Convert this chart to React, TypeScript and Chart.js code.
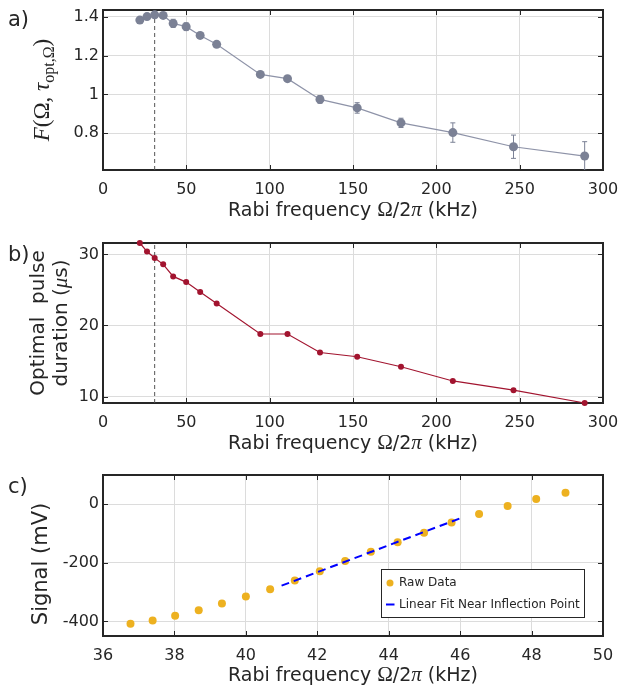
import React, { useEffect, useRef } from 'react';
import { Chart, registerables } from 'chart.js';

Chart.register(...registerables);

// ---------------- data ----------------
const rabiFreq = [22.1, 26.4, 31.0, 36.1, 42.1, 49.9, 58.3, 68.2, 94.4, 110.7, 130.2, 152.5, 178.8, 209.9, 246.3, 289.0];
const figureOfMerit = [1.383, 1.401, 1.41, 1.407, 1.366, 1.349, 1.304, 1.258, 1.103, 1.081, 0.974, 0.93, 0.853, 0.803, 0.73, 0.682];
const meritError = [0.013, 0.011, 0.011, 0.013, 0.021, 0.02, 0.014, 0.013, 0.013, 0.012, 0.02, 0.027, 0.024, 0.05, 0.06, 0.074];
const optimalDuration = [31.6, 30.4, 29.5, 28.6, 26.9, 26.1, 24.7, 23.1, 18.8, 18.8, 16.2, 15.6, 14.2, 12.2, 10.9, 9.1];
const optimalRabi = 31;

const signalFreq = [36.77, 37.39, 38.02, 38.68, 39.33, 40.0, 40.68, 41.37, 42.07, 42.78, 43.5, 44.25, 44.99, 45.76, 46.53, 47.33, 48.13, 48.95];
const signalMv = [-408, -397, -381, -362, -339, -315, -290, -260, -229, -194, -162, -130, -97, -62, -33, -6, 18, 39];
const fitFreq = [41, 46];
const fitMv = [-278, -48];

const xTicksAB = [0, 50, 100, 150, 200, 250, 300];
const yTicksA = [0.8, 1, 1.2, 1.4];
const yTicksB = [10, 20, 30];
const xTicksC = [36, 38, 40, 42, 44, 46, 48, 50];
const yTicksC = [-400, -200, 0];

const xRangeAB = [0, 300];
const yRangeA = [0.61, 1.435];
const yRangeB = [9.1, 31.6];
const xRangeC = [36, 50];
const yRangeC = [-450, 100];

const legendLabels = ['Raw Data', 'Linear Fit Near Inflection Point'];

// ---------------- style ----------------
const SANS = '"DejaVu Sans", sans-serif';
const SERIF = '"Liberation Serif", "DejaVu Serif", serif';
const TEXT = '#262626';
const GRID = '#dcdcdc';
const GRAY = '#7b8195';
const GRAY_LINE = '#8e93a8';
const RED = '#a2142f';
const ORANGE = '#edb120';
const BLUE = '#0000ff';
const W = 621;
const PLOT_LEFT = 103;
const PLOT_RIGHT = 603;

type Seg = { t: string; f: string; dy?: number };

function drawRich(ctx: CanvasRenderingContext2D, segs: Seg[], x: number, y: number, align: 'left' | 'center') {
  ctx.textAlign = 'left';
  ctx.textBaseline = 'alphabetic';
  let total = 0;
  const ws = segs.map((s) => {
    ctx.font = s.f;
    const w = ctx.measureText(s.t).width;
    total += w;
    return w;
  });
  let cx = align === 'center' ? x - total / 2 : x;
  segs.forEach((s, i) => {
    ctx.font = s.f;
    ctx.fillText(s.t, cx, y + (s.dy || 0));
    cx += ws[i];
  });
}

function drawRotated(ctx: CanvasRenderingContext2D, segs: Seg[], baseX: number, centerY: number) {
  ctx.save();
  ctx.translate(baseX, centerY);
  ctx.rotate(-Math.PI / 2);
  drawRich(ctx, segs, 0, 0, 'center');
  ctx.restore();
}

const xTitle: Seg[] = [
  { t: 'Rabi frequency ', f: `19px ${SANS}` },
  { t: 'Ω', f: `21px ${SERIF}` },
  { t: '/2', f: `19px ${SANS}` },
  { t: 'π', f: `italic 21px ${SERIF}` },
  { t: ' (kHz)', f: `19px ${SANS}` },
];

function xScale(range: number[], ticks: number[], height: number) {
  return {
    type: 'linear',
    position: 'bottom',
    min: range[0],
    max: range[1],
    afterBuildTicks: (s: any) => {
      s.ticks = ticks.map((v) => ({ value: v }));
    },
    afterFit: (s: any) => {
      s.height = height;
      s.paddingLeft = 0;
      s.paddingRight = 0;
    },
    ticks: {
      font: { family: SANS, size: 16 },
      color: TEXT,
      padding: 10,
      maxRotation: 0,
      autoSkip: false,
      callback: (v: any) => String(v),
    },
    grid: { color: GRID, lineWidth: 1, drawTicks: false },
    border: { display: false },
  };
}

function yScale(range: number[], ticks: number[]) {
  return {
    type: 'linear',
    position: 'left',
    min: range[0],
    max: range[1],
    afterBuildTicks: (s: any) => {
      s.ticks = ticks.map((v) => ({ value: v }));
    },
    afterFit: (s: any) => {
      s.width = PLOT_LEFT;
      s.paddingTop = 0;
      s.paddingBottom = 0;
    },
    ticks: {
      font: { family: SANS, size: 16 },
      color: TEXT,
      padding: 4,
      autoSkip: false,
      callback: (v: any) => String(v),
    },
    grid: { color: GRID, lineWidth: 1, drawTicks: false },
    border: { display: false },
  };
}

function drawFrame(chart: any) {
  const { ctx, chartArea: a, scales } = chart;
  const xs = scales.x;
  const ys = scales.y;
  ctx.save();
  ctx.strokeStyle = TEXT;
  ctx.lineWidth = 1;
  ctx.beginPath();
  for (const t of xs.ticks) {
    const px = Math.round(xs.getPixelForValue(t.value)) + 0.5;
    ctx.moveTo(px, a.bottom);
    ctx.lineTo(px, a.bottom - 5);
    ctx.moveTo(px, a.top);
    ctx.lineTo(px, a.top + 5);
  }
  for (const t of ys.ticks) {
    const py = Math.round(ys.getPixelForValue(t.value)) + 0.5;
    ctx.moveTo(a.left, py);
    ctx.lineTo(a.left + 5, py);
    ctx.moveTo(a.right, py);
    ctx.lineTo(a.right - 5, py);
  }
  ctx.stroke();
  ctx.lineWidth = 2;
  ctx.strokeRect(a.left, a.top, a.right - a.left, a.bottom - a.top);
  ctx.restore();
}

function baseOptions(plotTop: number, xs: any, ys: any) {
  return {
    animation: false,
    responsive: false,
    events: [],
    layout: { padding: { left: 0, right: W - PLOT_RIGHT, top: plotTop, bottom: 0 } },
    plugins: { legend: { display: false }, tooltip: { enabled: false } },
    scales: { x: xs, y: ys },
  };
}

// ---------------- panel configs ----------------
function configA() {
  const H = 235;
  return {
    type: 'line',
    data: {
      datasets: [
        {
          data: [
            { x: optimalRabi, y: yRangeA[0] },
            { x: optimalRabi, y: yRangeA[1] },
          ],
          borderColor: '#555555',
          borderWidth: 1,
          borderDash: [4, 3],
          pointRadius: 0,
          order: 2,
        },
        {
          data: rabiFreq.map((x, i) => ({ x, y: figureOfMerit[i] })),
          borderColor: GRAY_LINE,
          borderWidth: 1.2,
          pointRadius: 4.5,
          pointBackgroundColor: GRAY,
          pointBorderWidth: 0,
          order: 1,
          clip: false,
        },
      ],
    },
    options: baseOptions(10, xScale(xRangeAB, xTicksAB, H - 170), yScale(yRangeA, yTicksA)),
    plugins: [
      {
        id: 'decorA',
        beforeDatasetsDraw(chart: any) {
          drawFrame(chart);
          const { ctx, chartArea: a, scales } = chart;
          ctx.save();
          ctx.beginPath();
          ctx.rect(a.left, a.top, a.right - a.left, a.bottom - a.top);
          ctx.clip();
          ctx.strokeStyle = GRAY;
          ctx.lineWidth = 1;
          ctx.beginPath();
          rabiFreq.forEach((f, i) => {
            const px = scales.x.getPixelForValue(f);
            const y1 = scales.y.getPixelForValue(figureOfMerit[i] - meritError[i]);
            const y2 = scales.y.getPixelForValue(figureOfMerit[i] + meritError[i]);
            ctx.moveTo(px, y1);
            ctx.lineTo(px, y2);
            ctx.moveTo(px - 2.5, y1);
            ctx.lineTo(px + 2.5, y1);
            ctx.moveTo(px - 2.5, y2);
            ctx.lineTo(px + 2.5, y2);
          });
          ctx.stroke();
          ctx.restore();
        },
        afterDraw(chart: any) {
          const { ctx, chartArea: a } = chart;
          ctx.save();
          ctx.fillStyle = TEXT;
          drawRich(ctx, [{ t: 'a)', f: `21px ${SANS}` }], 8, 26, 'left');
          drawRich(ctx, xTitle, (a.left + a.right) / 2, a.bottom + 46, 'center');
          drawRotated(
            ctx,
            [
              { t: 'F', f: `italic 23px ${SERIF}` },
              { t: '(Ω, ', f: `23px ${SERIF}` },
              { t: 'τ', f: `italic 23px ${SERIF}` },
              { t: 'opt,Ω', f: `16px ${SERIF}`, dy: 5 },
              { t: ')', f: `23px ${SERIF}` },
            ],
            49,
            (a.top + a.bottom) / 2
          );
          ctx.restore();
        },
      },
    ],
  };
}

function configB() {
  const H = 230;
  return {
    type: 'line',
    data: {
      datasets: [
        {
          data: [
            { x: optimalRabi, y: yRangeB[0] },
            { x: optimalRabi, y: yRangeB[1] },
          ],
          borderColor: '#555555',
          borderWidth: 1,
          borderDash: [4, 3],
          pointRadius: 0,
          order: 2,
        },
        {
          data: rabiFreq.map((x, i) => ({ x, y: optimalDuration[i] })),
          borderColor: RED,
          borderWidth: 1.2,
          pointRadius: 3,
          pointBackgroundColor: RED,
          pointBorderWidth: 0,
          order: 1,
          clip: false,
        },
      ],
    },
    options: baseOptions(8, xScale(xRangeAB, xTicksAB, H - 168), yScale(yRangeB, yTicksB)),
    plugins: [
      {
        id: 'decorB',
        beforeDatasetsDraw(chart: any) {
          drawFrame(chart);
        },
        afterDraw(chart: any) {
          const { ctx, chartArea: a } = chart;
          ctx.save();
          ctx.fillStyle = TEXT;
          drawRich(ctx, [{ t: 'b)', f: `21px ${SANS}` }], 8, 26, 'left');
          drawRich(ctx, xTitle, (a.left + a.right) / 2, a.bottom + 46, 'center');
          const cy = (a.top + a.bottom) / 2;
          drawRotated(ctx, [{ t: 'Optimal  pulse', f: `20px ${SANS}` }], 44, cy);
          drawRotated(
            ctx,
            [
              { t: 'duration (', f: `20px ${SANS}` },
              { t: 'μ', f: `italic 21px ${SERIF}` },
              { t: 's)', f: `20px ${SANS}` },
            ],
            67,
            cy
          );
          ctx.restore();
        },
      },
    ],
  };
}

function configC() {
  const H = 229;
  return {
    type: 'line',
    data: {
      datasets: [
        {
          data: fitFreq.map((x, i) => ({ x, y: fitMv[i] })),
          borderColor: BLUE,
          borderWidth: 2,
          borderDash: [8, 5],
          pointRadius: 0,
          order: 0,
        },
        {
          data: signalFreq.map((x, i) => ({ x, y: signalMv[i] })),
          showLine: false,
          pointRadius: 4,
          pointBackgroundColor: ORANGE,
          pointBorderWidth: 0,
          order: 1,
        },
      ],
    },
    options: baseOptions(10, xScale(xRangeC, xTicksC, H - 171), yScale(yRangeC, yTicksC)),
    plugins: [
      {
        id: 'decorC',
        beforeDatasetsDraw(chart: any) {
          drawFrame(chart);
        },
        afterDraw(chart: any) {
          const { ctx, chartArea: a } = chart;
          ctx.save();
          ctx.fillStyle = TEXT;
          drawRich(ctx, [{ t: 'c)', f: `21px ${SANS}` }], 8, 27.5, 'left');
          drawRich(ctx, xTitle, (a.left + a.right) / 2, a.bottom + 45, 'center');
          drawRotated(ctx, [{ t: 'Signal (mV)', f: `21px ${SANS}` }], 47, 99);
          // legend
          const lx = 381, ly = 104, lw = 203, lh = 48;
          ctx.fillStyle = '#ffffff';
          ctx.fillRect(lx, ly, lw, lh);
          ctx.strokeStyle = TEXT;
          ctx.lineWidth = 1;
          ctx.strokeRect(lx + 0.5, ly + 0.5, lw, lh);
          ctx.fillStyle = ORANGE;
          ctx.beginPath();
          ctx.arc(390, ly + 14, 3.5, 0, Math.PI * 2);
          ctx.fill();
          ctx.strokeStyle = BLUE;
          ctx.lineWidth = 2;
          ctx.beginPath();
          ctx.moveTo(386, ly + 35.5);
          ctx.lineTo(394.5, ly + 35.5);
          ctx.stroke();
          ctx.fillStyle = TEXT;
          ctx.font = `12px ${SANS}`;
          ctx.textAlign = 'left';
          ctx.textBaseline = 'middle';
          ctx.fillText(legendLabels[0], 399, ly + 14);
          ctx.fillText(legendLabels[1], 399, ly + 35.5);
          ctx.restore();
        },
      },
    ],
  };
}

function Panel({ top, height, build }: { top: number; height: number; build: () => any }) {
  const ref = useRef<HTMLCanvasElement>(null);
  useEffect(() => {
    const chart = new Chart(ref.current as HTMLCanvasElement, build());
    return () => chart.destroy();
  }, []);
  return (
    <canvas
      ref={ref}
      width={W}
      height={height}
      style={{ position: 'absolute', left: 0, top, width: W, height }}
    />
  );
}

export default function App() {
  return (
    <div style={{ position: 'absolute', left: 0, top: 0, width: W, height: 694, background: '#ffffff' }}>
      <Panel top={0} height={235} build={configA} />
      <Panel top={235} height={230} build={configB} />
      <Panel top={465} height={229} build={configC} />
    </div>
  );
}
